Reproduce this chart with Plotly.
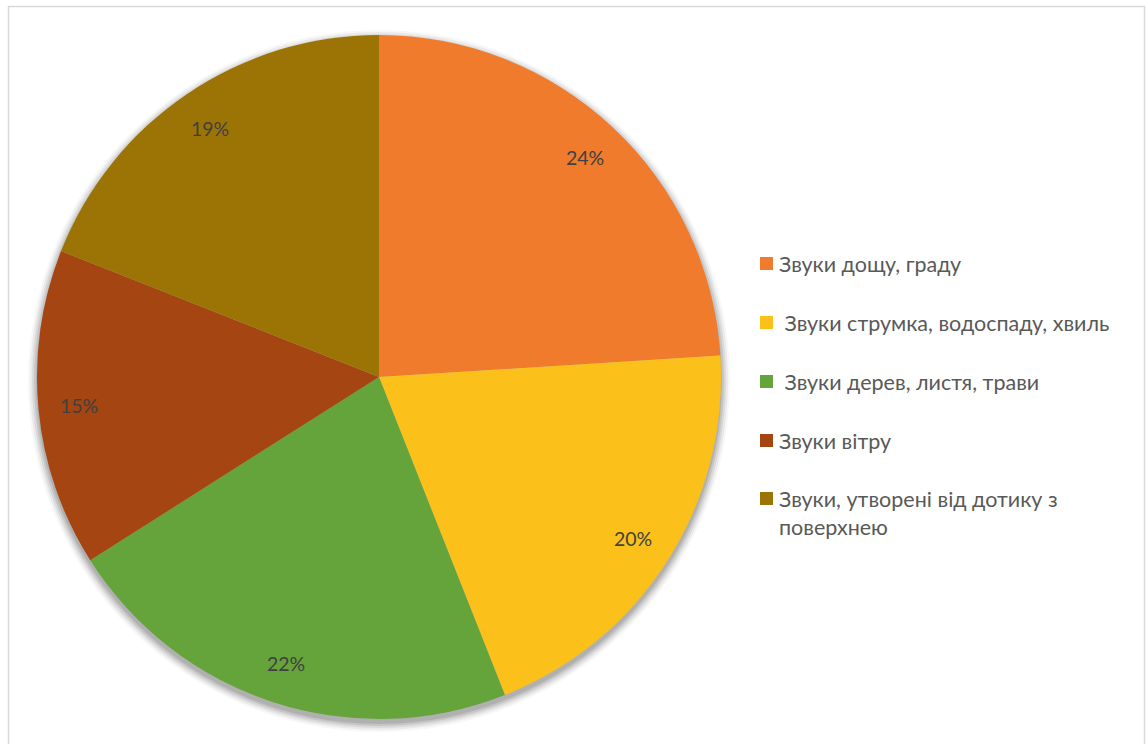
import math
import plotly.graph_objects as go

labels = [
    "Звуки дощу, граду",
    " Звуки струмка, водоспаду, хвиль",
    " Звуки дерев, листя, трави",
    "Звуки вітру",
    "Звуки, утворені від дотику з поверхнею",
]
legend_text = [
    "Звуки дощу, граду",
    " Звуки струмка, водоспаду, хвиль",
    " Звуки дерев, листя, трави",
    "Звуки вітру",
    "Звуки, утворені від дотику з<br>поверхнею",
]
values = [24, 20, 22, 15, 19]
colors = ["#F07B2C", "#FBC11A", "#65A43A", "#A44512", "#9C7406"]

W, H = 1148, 744
cx, cy, R = 379, 377, 342
FONT = "Lato, Open Sans, sans-serif"

def px(x):
    return x / W

def py(y):
    return 1 - y / H

fig = go.Figure()
fig.add_trace(go.Pie(
    labels=labels,
    values=values,
    sort=False,
    direction="clockwise",
    rotation=0,
    marker=dict(colors=colors, line=dict(width=0)),
    textinfo="none",
    domain=dict(x=[px(cx - R), px(cx + R)], y=[py(cy + R), py(cy - R)]),
    showlegend=False,
    hoverinfo="label+percent",
))

shapes = []
# frame
shapes.append(dict(type="rect", xref="paper", yref="paper",
                   x0=px(8.5), x1=px(1144.5), y0=py(760), y1=py(6.5),
                   line=dict(color="#D9D9D9", width=1.5), fillcolor="rgba(0,0,0,0)",
                   layer="below"))
# soft shadow under the pie
for grow, op in [(9, 0.03), (7, 0.05), (5, 0.07), (3, 0.09), (1, 0.1)]:
    r = R + grow
    shapes.append(dict(type="circle", xref="paper", yref="paper",
                       x0=px(cx - r), x1=px(cx + r),
                       y0=py(cy + 4 + r), y1=py(cy + 4 - r),
                       line=dict(width=0), fillcolor=f"rgba(0,0,0,{op})",
                       layer="below"))

annotations = []
# percentage labels, placed toward the outer part of each slice
total = sum(values)
cum = 0
for v in values:
    mid = (cum + v / 2) / total * 2 * math.pi
    cum += v
    r = 0.88 * R
    x = cx + r * math.sin(mid)
    y = cy - r * math.cos(mid)
    annotations.append(dict(xref="paper", yref="paper", x=px(x), y=py(y),
                            xanchor="center", yanchor="middle",
                            text=f"{round(v / total * 100)}%", showarrow=False,
                            font=dict(family=FONT, size=19.5, color="#404040")))

row_y = [263, 322, 381, 440, 498]
for i, (txt, col) in enumerate(zip(legend_text, colors)):
    y = row_y[i]
    shapes.append(dict(type="rect", xref="paper", yref="paper",
                       x0=px(760), x1=px(773), y0=py(y + 7), y1=py(y - 6),
                       line=dict(width=0), fillcolor=col))
    annotations.append(dict(xref="paper", yref="paper", x=px(777), y=py(y - 14),
                            xanchor="left", yanchor="top", align="left",
                            text=txt, showarrow=False,
                            font=dict(family=FONT, size=21.5, color="#595959")))

fig.update_layout(
    width=W, height=H,
    margin=dict(l=0, r=0, t=0, b=0),
    paper_bgcolor="white",
    plot_bgcolor="white",
    shapes=shapes,
    annotations=annotations,
)

fig.write_html("out.html")
